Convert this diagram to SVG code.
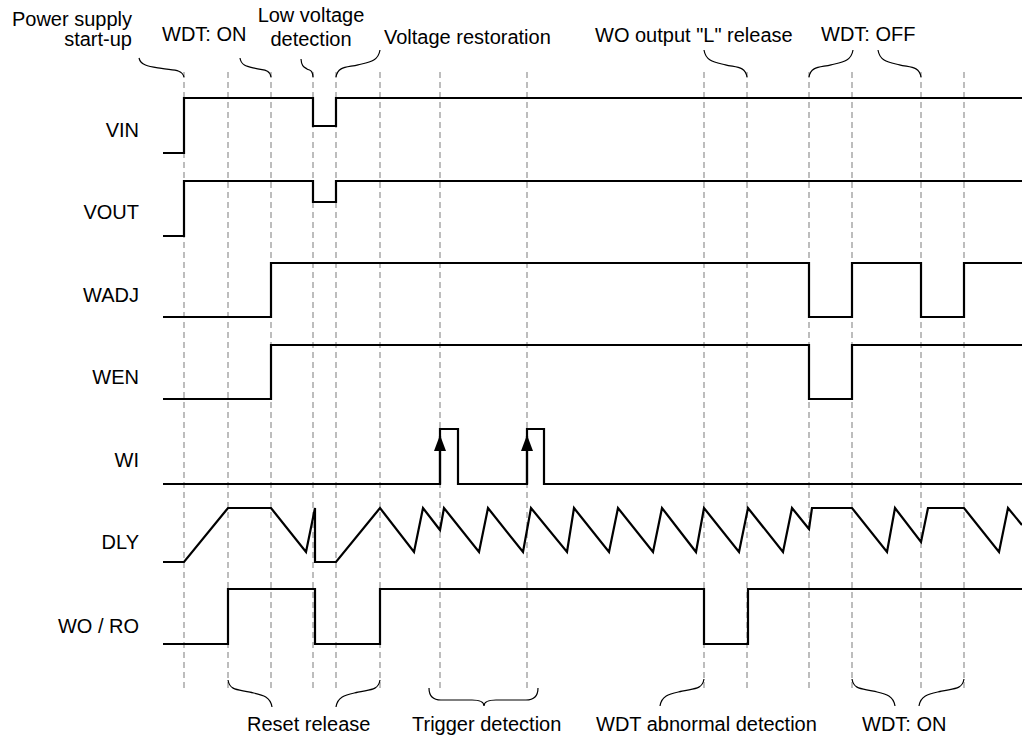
<svg xmlns="http://www.w3.org/2000/svg" width="1022" height="740" viewBox="0 0 1022 740">
<style>
text{font-family:"Liberation Sans",Arial,sans-serif;font-size:20px;fill:#000}
.lbl{text-anchor:end}
.mid{text-anchor:middle}
.grid{stroke:#9a9a9a;stroke-width:1.3;stroke-dasharray:6 4;fill:none}
.wave{stroke:#000;stroke-width:2.2;fill:none;stroke-linejoin:miter}
.edge{stroke:#000;stroke-width:2.2;fill:none}
.brace{stroke:#000;stroke-width:1.2;fill:none}
</style>
<defs>
<marker id="arr" markerWidth="16" markerHeight="12" refX="15" refY="6" orient="auto" markerUnits="userSpaceOnUse" viewBox="0 0 16 12">
<path d="M0,0 L16,6 L0,12 Z" fill="#000"/>
</marker>
</defs>
<rect width="1022" height="740" fill="#fff"/>
<g id="grid">
<path class="grid" d="M184,72V688M228,72V688M271,72V688M313,72V688M336,72V688M380,72V688M440,72V688M527,72V688M704,72V688M747,72V688M809,72V688M852,72V688M921,72V688M964,72V688"/>
</g>
<g id="signal-labels">
<text class="lbl" x="139" y="137">VIN</text>
<text class="lbl" x="139" y="219">VOUT</text>
<text class="lbl" x="139" y="302">WADJ</text>
<text class="lbl" x="139" y="384">WEN</text>
<text class="lbl" x="139" y="467">WI</text>
<text class="lbl" x="139" y="549">DLY</text>
<text class="lbl" x="139" y="633">WO / RO</text>
</g>
<g id="waveforms">
<path id="VIN" class="wave" d="M163,153H184V98H313V126H336V98H1022"/>
<path id="VOUT" class="wave" d="M163,236H184V181H313V202H336V181H1022"/>
<path id="WADJ" class="wave" d="M163,317H271V263H809V317H852V263H921V317H964V263H1022"/>
<path id="WEN" class="wave" d="M163,399H271V345H809V399H852V345H1022"/>
<path id="WI" class="wave" d="M163,484H440V429H458V484H527V429H544V484H1022"/>
<path id="DLY" class="wave" d="M163,562L184,562L228,508L271,508L306,552L315,508L315,562L336,562L380,508L414,552L423,508L440,530L444,508L479,552L488,508L523,552L531,508L567,552L574,508L609,552L618,508L653,552L662,508L696,552L704,508L739,552L748,508L783,552L792,508L809,529L812,508L852,508L887,552L895,508L921,542L928,508L964,508L999,552L1008,508L1022,525"/>
<path id="WORO" class="wave" d="M163,644H228V589H315V644H380V589H704V644H748V589H1022"/>
</g>
<g id="connectors">
<path class="edge" d="M440,484V436" marker-end="url(#arr)"/>
<path class="edge" d="M527,484V436" marker-end="url(#arr)"/>
<path class="brace" d="M139,58C140.8,66 150.25,66.55 161.5,68.45C172.75,70.35 182,69 184,77"/>
<path class="brace" d="M240,58C241.2,66 247.75,66.55 255.5,68.45C263.25,70.35 269.7,69 271,77"/>
<path class="brace" d="M301,59C301.5,66.5 304,67.1 307,68.9C310,70.7 312.5,69.5 313,77"/>
<path class="brace" d="M380,50C378.2,61.5 369,62.15 358,64.85C347,67.55 337.8,66 336,77"/>
<path class="brace" d="M704,50C705.8,61.5 714.75,62.15 725.5,64.85C736.25,67.55 745.2,66 747,77"/>
<path class="brace" d="M853,50C851.2,61.5 842,62.15 831,64.85C820,67.55 810.8,66 809,77"/>
<path class="brace" d="M878,50C879.8,61.5 888.75,62.15 899.5,64.85C910.25,67.55 919.2,66 921,77"/>
<path class="brace" d="M272,707C270.2,695.5 261,694.85 250,692.15C239,689.45 229.8,691 228,680"/>
<path class="brace" d="M336,707C337.8,695.5 347,694.85 358,692.15C369,689.45 378.2,691 380,680"/>
<path class="brace" d="M429,688Q429,700 441,700L472,700Q484,700 484,706Q484,700 496,700L526,700Q538,700 538,688"/>
<path class="brace" d="M660,706C661.8,694.5 671,693.85 682,691.15C693,688.45 702.2,690 704,679"/>
<path class="brace" d="M895,706C893.2,694.5 884.25,693.85 873.5,691.15C862.75,688.45 853.8,690 852,679"/>
<path class="brace" d="M919,706C920.8,694.5 930.25,693.85 941.5,691.15C952.75,688.45 962.2,690 964,679"/>
</g>
<g id="annotations">
<text class="lbl" x="132" y="26">Power supply</text>
<text class="lbl" x="132" y="46">start-up</text>
<text x="162" y="41">WDT: ON</text>
<text class="mid" x="311" y="22">Low voltage</text>
<text class="mid" x="311" y="46">detection</text>
<text x="384" y="44">Voltage restoration</text>
<text x="595" y="42">WO output "L" release</text>
<text x="821" y="41">WDT: OFF</text>
<text x="247" y="731">Reset release</text>
<text x="412" y="731">Trigger detection</text>
<text x="596" y="731">WDT abnormal detection</text>
<text x="862" y="731">WDT: ON</text>
</g>
</svg>
